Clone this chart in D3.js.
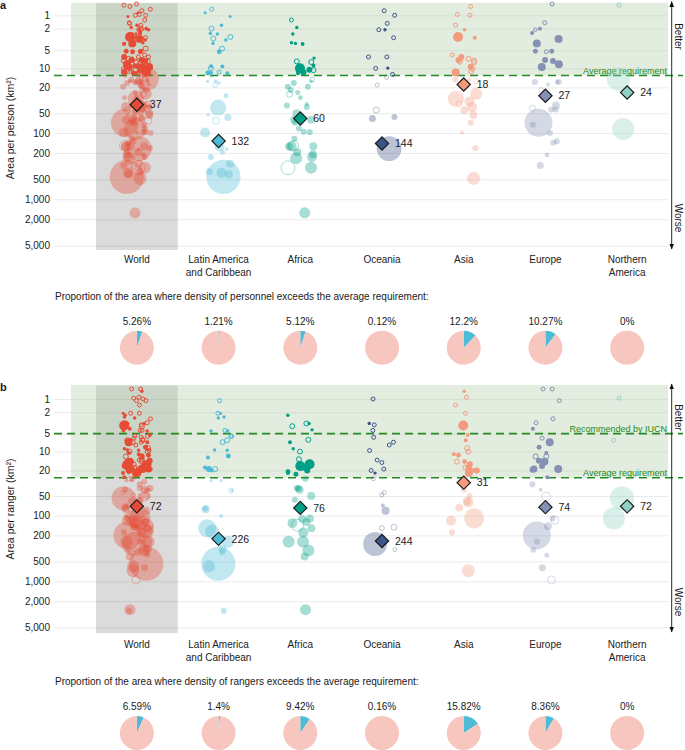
<!DOCTYPE html>
<html><head><meta charset="utf-8">
<script src="https://cdn.jsdelivr.net/npm/d3@7"></script>
<style>
body{margin:0;background:#fff}
svg{display:block}
text{font-family:"Liberation Sans",Arial,Helvetica,sans-serif;fill:#1a1a1a}
</style>
</head><body><svg id="chart" width="685" height="750"></svg>
<script>
// ---------------- DATA ----------------
const regions = ["World","Latin America and Caribbean","Africa","Oceania","Asia","Europe","Northern America"];
const regionLabels = [["World"],["Latin America","and Caribbean"],["Africa"],["Oceania"],["Asia"],["Europe"],["Northern","America"]];
const regionColors = ["#E64B35","#4DBBD5","#00A087","#3C5488","#F39B7F","#8491B4","#91D1C2"];
const yTicks = [1,2,5,10,20,50,100,200,500,1000,2000,5000];

// each point: [area per person/ranger (km2), size (area of the unit), filled(1)/hollow(0)]
const personnelLatin = [[0.68,12,0],[0.85,7,1],[1.07,7,1],[1.7,9,1],[2.0,19,0],[2.5,9,1],[2.55,9,1],[2.9,19,0],[3.1,19,0],[3.3,9,1],[3.8,9,1],[4.7,19,0],[5.3,19,1],[9.2,12,1],[9.3,12,1],[9.9,19,0],[11.8,12,1],[11.9,19,1],[12,12,1],[11.5,12,0],
  [13.4,9,1],[16,12,1],[16.2,9,1],[17,9,1],[18.4,19,0],[27,19,1],[41,198,1],[53,9,1],[58,38,1],[65,38,0],[98,77,1],[160,77,1],[176,9,1],[195,19,1],[230,28,1],[290,49,1],[380,38,1],[420,49,1],[400,77,1],[460,900,1]];
const personnelAfrica = [[1.3,12,0],[1.9,9,1],[2.55,9,1],[3.8,9,1],[3.9,12,1],[3.7,9,1],[7.9,19,0],[6.8,9,1],[7.7,19,0],[9,12,1],[10,77,1],[10.5,28,1],[11,19,1],[11.5,28,1],[12,12,1],[10.7,19,0],[9.5,19,0],
  [15,19,0],[17,28,1],[16,9,1],[22,28,1],[19.5,28,1],[19.5,28,1],[25.6,28,0],[24,19,1],[29,19,1],[40,28,1],[36,12,1],[38,28,1],[50,49,1],[63,49,1],[70,28,1],[63,49,1],[85,28,1],[96,28,1],[97,28,1],[122,28,1],[156,77,0],[158,77,1],[160,49,1],[158,49,1],[210,49,1],[230,77,1],[195,49,1],[335,151,0],[335,111,1],[240,111,1],[1600,94,1]];
const personnelOceania = [[0.75,12,0],[1.0,12,0],[1.55,12,0],[2.1,12,0],[2.1,9,1],[3.0,12,0],[6.5,12,0],[6.5,12,0],[10,12,0],[9.9,9,1],[12.5,12,0],
  [14,12,0],[18.4,12,0],[44.7,28,0],[60,38,1],[57,28,1],[172,480,1]];
const personnelAsia = [[0.55,12,0],[0.95,12,0],[1.0,12,0],[1.7,12,0],[2.1,9,1],[2.9,77,1],[3.0,12,1],[3.0,12,0],[6,12,0],[6.5,28,1],[7.3,28,1],[7.5,19,0],[7.8,19,0],[9.4,28,1],[10.2,19,0],[11.6,49,1],[11.2,19,0],[7,19,0],[8,19,0],
  [15,28,1],[15,12,1],[16,19,0],[25,111,1],[30,198,1],[33,77,1],[36,28,0],[40,77,1],[45,49,1],[53,49,1],[70,28,1],[98,12,1],[170,28,1],[485,130,1]];
const personnelEurope = [[0.45,12,0],[1.5,12,0],[2.0,12,1],[2.1,9,0],[2.45,12,1],[3.15,49,1],[3.8,49,1],[5.2,19,1],[5.3,12,0],[5.2,19,1],[7.3,28,1],[7.6,28,1],[8.6,49,1],[9.5,49,1],
  [16.5,28,1],[16.5,28,1],[16.5,19,1],[18,12,1],[22,19,0],[42,28,0],[38,49,1],[44,28,1],[44,28,1],[70,605,1],[75,28,1],[100,28,1],[133,28,1],[140,28,1],[215,19,1],[310,38,1]];
const personnelNAmerica = [[0.5,12,0],[14.8,420,1],[87,374,1]];

const rangerLatin = [[1.1,12,0],[2.1,12,0],[2.1,7,1],[2.5,9,1],[2.6,9,1],[4.5,9,1],[4.5,9,1],[4.4,12,0],[5.5,12,0],[6.5,19,0],[7.0,19,0],[5.6,12,0],[9.4,9,1],[9.5,9,1],[11.8,19,1],[12.5,12,1],[18,12,1],[19,28,1],[19,19,0],[20,12,1],
  [29,9,1],[29,9,1],[41,19,0],[41,9,1],[78,28,1],[80,49,1],[100,12,1],[155,250,1],[175,151,1],[250,111,1],[320,49,1],[360,28,1],[540,900,1],[590,111,1],[2800,28,1]];
const rangerAfrica = [[2.3,9,1],[3.3,19,0],[3.7,19,0],[3.3,9,1],[4.3,9,1],[6.4,19,0],[7,12,1],[9,9,1],[10,19,0],[13.3,19,0],[17,77,1],[16,77,1],[16,19,0],[20,28,1],[21,19,1],[23,19,1],[18,28,1],[22,12,1],
  [27,28,1],[38,28,1],[40,49,1],[38,38,1],[50,49,1],[57,28,1],[110,49,1],[130,77,1],[112,49,1],[125,49,1],[140,111,0],[155,49,1],[180,77,1],[250,111,1],[250,111,1],[340,111,1],[420,49,1],[2700,94,1]];
const rangerOceania = [[1.0,12,0],[3.3,9,1],[3.5,12,0],[4.4,12,0],[5.8,12,0],[7,12,0],[7.8,12,0],[9.6,12,0],[13.7,12,0],[15,12,0],[19,12,0],[20,12,0],[22,9,1],
  [27,12,0],[48,12,0],[44,12,0],[70,12,1],[84,49,1],[150,28,0],[155,19,0],[270,445,1],[330,12,0]];
const rangerAsia = [[0.6,9,1],[0.9,12,0],[1.4,12,0],[2.1,12,0],[3.6,77,1],[5.3,12,1],[6.5,12,1],[8.8,19,0],[10,19,0],[11,12,1],[11.5,19,1],[14.5,19,0],[14.5,19,1],[16,28,1],[18,28,1],[20,28,1],[20,19,1],[19,28,1],[18,19,0],[22,49,1],
  [30,28,1],[40,28,1],[50,28,1],[63,77,1],[60,49,1],[75,49,1],[110,309,1],[120,77,1],[180,28,1],[690,130,1]];
const rangerEurope = [[0.5,12,0],[0.5,12,0],[1.1,12,0],[2.7,12,0],[3.2,12,0],[4.1,12,1],[6,12,0],[7,49,1],[8.5,19,1],[12,19,0],[12,19,0],[10.5,12,1],[14.5,49,1],[14,28,1],[19,49,1],[19,38,1],[19.5,28,1],[17,28,1],
  [25.5,12,1],[33,28,1],[40,12,1],[51,60,0],[117,49,0],[110,28,1],[145,49,1],[200,605,1],[250,28,1],[330,28,1],[400,19,1],[620,38,1],[950,49,0]];
const rangerNAmerica = [[0.95,12,0],[6.5,12,0],[54,445,1],[110,374,1]];

const personnelMeans = [37,132,60,144,18,27,24];
const rangerMeans = [72,226,76,244,31,74,72];
const personnelShare = [5.26,1.21,5.12,0.12,12.2,10.27,0];
const rangerShare = [6.59,1.4,9.42,0.16,15.82,8.36,0];
const personnelThreshold = 13;
const rangerThreshold = 26;
const iucnRecommended = 5;

// ---------------- DRAW ----------------
const svg = d3.select("#chart");
const OFF = 0.7;
const x = d3.scaleBand().domain(regions).range([96, 668]);
const bw = x.bandwidth();
const rScale = d3.scaleSqrt().domain([0, 1000]).range([0, 18]);
const GREEN = "#238b23";

const defs = svg.append("defs");
defs.append("marker").attr("id","arr").attr("viewBox","0 0 10 10").attr("refX",9).attr("refY",5)
  .attr("markerWidth",6).attr("markerHeight",6).attr("orient","auto-start-reverse").attr("markerUnits","userSpaceOnUse")
  .append("path").attr("d","M0,1 L10,5 L0,9 Z").attr("fill","#111");

function drawPanel(cfg) {
  const g = svg.append("g");
  const yl = d3.scaleLog().domain([1 + OFF, 5000 + OFF]).range([cfg.y1, cfg.y5000]);
  const y = v => yl(v + OFF);

  // grid + tick labels
  const ax = g.append("g").attr("transform", "translate(54,0)")
    .call(d3.axisLeft(yl).tickValues(yTicks.map(v => v + OFF)).tickSize(-(668 - 54)).tickPadding(4)
      .tickFormat(d => d3.format(",")(Math.round(d - OFF))));
  ax.select(".domain").remove();
  ax.selectAll(".tick line").attr("stroke", "#ebebeb").attr("stroke-width", 1);
  ax.selectAll(".tick text").attr("font-size", 10).style("fill", "#222");

  // World band
  g.append("rect").attr("x", x("World")).attr("width", bw).attr("y", cfg.top + 0.5)
    .attr("height", cfg.bottom - cfg.top - 0.5).attr("fill", "#000").attr("opacity", 0.14);
  // better zone
  g.append("rect").attr("x", 71).attr("width", 668 - 71).attr("y", cfg.top)
    .attr("height", y(cfg.threshold) - cfg.top).attr("fill", "rgb(170,200,162)").attr("opacity", 0.34);

  // reference lines
  const refs = [{v: cfg.threshold, label: "Average requirement"}];
  if (cfg.iucn) refs.unshift({v: cfg.iucn, label: "Recommended by IUCN"});
  refs.forEach(rf => {
    g.append("line").attr("x1", 54).attr("x2", 683).attr("y1", y(rf.v)).attr("y2", y(rf.v))
      .attr("stroke", GREEN).attr("stroke-width", 1.6).attr("stroke-dasharray", "8,5");
    g.append("text").attr("x", 667).attr("y", y(rf.v) - 1.5).attr("text-anchor", "end")
      .attr("font-size", 9).style("fill", GREEN).text(rf.label);
  });

  // points
  const rng = d3.randomLcg(cfg.seed);
  const pts = [];
  cfg.series.forEach((arr, i) => {
    arr.forEach(p => pts.push({region: regions[i + 1], ci: i + 1, v: p[0], a: p[1], f: p[2]}));
  });
  const world = pts.map(p => ({region: "World", ci: 0, v: p.v, a: p.a, f: p.f}));
  const all = world.concat(pts);
  all.forEach(p => { p.j = (rng() - 0.5) * 2 * 0.17 * bw; });
  all.sort((a, b) => b.a - a.a);
  g.append("g").selectAll("circle").data(all).join("circle")
    .attr("cx", d => x(d.region) + bw / 2 + d.j)
    .attr("cy", d => y(d.v))
    .attr("r", d => rScale(d.a))
    .attr("fill", d => d.f ? regionColors[d.ci] : "none")
    .attr("stroke", d => d.f ? "none" : regionColors[d.ci])
    .attr("stroke-width", 1)
    .attr("opacity", d => d.v < cfg.threshold ? 1 : 0.35);

  // means
  const sym = d3.symbol().type(d3.symbolSquare).size(88);
  cfg.means.forEach((m, i) => {
    const cx = x(regions[i]) + bw / 2, cy = y(m);
    g.append("path").attr("d", sym()).attr("transform", `translate(${cx},${cy}) rotate(45)`)
      .attr("fill", regionColors[i]).attr("stroke", "#1a1a1a").attr("stroke-width", 1.2);
    g.append("text").attr("x", cx + 13).attr("y", cy).attr("dy", "0.35em").attr("font-size", 10.5).text(m);
  });

  // x labels
  const xa = g.append("g").attr("transform", `translate(0,${cfg.bottom})`)
    .call(d3.axisBottom(x).tickSize(0).tickPadding(cfg.labelPad).tickFormat(""));
  xa.select(".domain").remove();
  xa.selectAll(".tick").each(function(d, i) {
    const t = d3.select(this).select("text").attr("font-size", 10).style("fill", "#222");
    regionLabels[i].forEach((ln, k) => t.append("tspan").attr("x", 0).attr("dy", k === 0 ? "0.71em" : "1.3em").text(ln));
  });

  // y title
  g.append("text").attr("transform", `translate(10.5,${cfg.titleY}) rotate(-90)`).attr("dy", "0.35em")
    .attr("text-anchor", "middle").attr("font-size", 10.5).text(cfg.title);

  // better / worse arrow
  g.append("line").attr("x1", 671.7).attr("x2", 671.7).attr("y1", cfg.top - 1).attr("y2", cfg.bottom - 1)
    .attr("stroke", "#111").attr("stroke-width", 0.9).attr("marker-start", "url(#arr)").attr("marker-end", "url(#arr)");
  [["Better", cfg.betterY], ["Worse", cfg.worseY]].forEach(([t, cy]) => {
    g.append("text").attr("transform", `translate(678.5,${cy}) rotate(90)`).attr("dy", "0.35em")
      .attr("text-anchor", "middle").attr("font-size", 10).text(t);
  });

  // panel letter
  g.append("text").attr("x", 0).attr("y", cfg.top + 6).attr("font-size", 11).attr("font-weight", "bold").text(cfg.letter);

  // proportion text + pies
  g.append("text").attr("x", 55).attr("y", cfg.propY).attr("font-size", 10).text(cfg.propText);
  const pie = d3.pie().sort(null).value(d => d);
  const arc = d3.arc().innerRadius(0).outerRadius(17);
  cfg.share.forEach((s, i) => {
    const cx = x(regions[i]) + bw / 2;
    const pg = g.append("g").attr("transform", `translate(${cx},${cfg.pieY})`);
    pg.selectAll("path").data(pie([s, 100 - s])).join("path").attr("d", arc)
      .attr("fill", (d, k) => k === 0 ? "#4DBBD5" : "#F7C6BF");
    g.append("text").attr("x", cx).attr("y", cfg.pieY - 23).attr("text-anchor", "middle").attr("font-size", 10).text(s + "%");
  });
}

drawPanel({
  letter: "a", top: 2.7, bottom: 250, y1: 15.3, y5000: 245.7, threshold: personnelThreshold, iucn: null,
  series: [personnelLatin, personnelAfrica, personnelOceania, personnelAsia, personnelEurope, personnelNAmerica],
  means: personnelMeans, share: personnelShare, seed: 0.27,
  title: "Area per person (km²)", titleY: 128, betterY: 36.5, worseY: 218, labelPad: 6,
  propText: "Proportion of the area where density of personnel exceeds the average requirement:",
  propY: 299.5, pieY: 347.7
});
drawPanel({
  letter: "b", top: 385, bottom: 633, y1: 399, y5000: 627.3, threshold: rangerThreshold, iucn: iucnRecommended,
  series: [rangerLatin, rangerAfrica, rangerOceania, rangerAsia, rangerEurope, rangerNAmerica],
  means: rangerMeans, share: rangerShare, seed: 0.61,
  title: "Area per ranger (km²)", titleY: 509, betterY: 417.5, worseY: 602, labelPad: 8,
  propText: "Proportion of the area where density of rangers exceeds the average requirement:",
  propY: 684.5, pieY: 733
});
</script>
</body></html>
